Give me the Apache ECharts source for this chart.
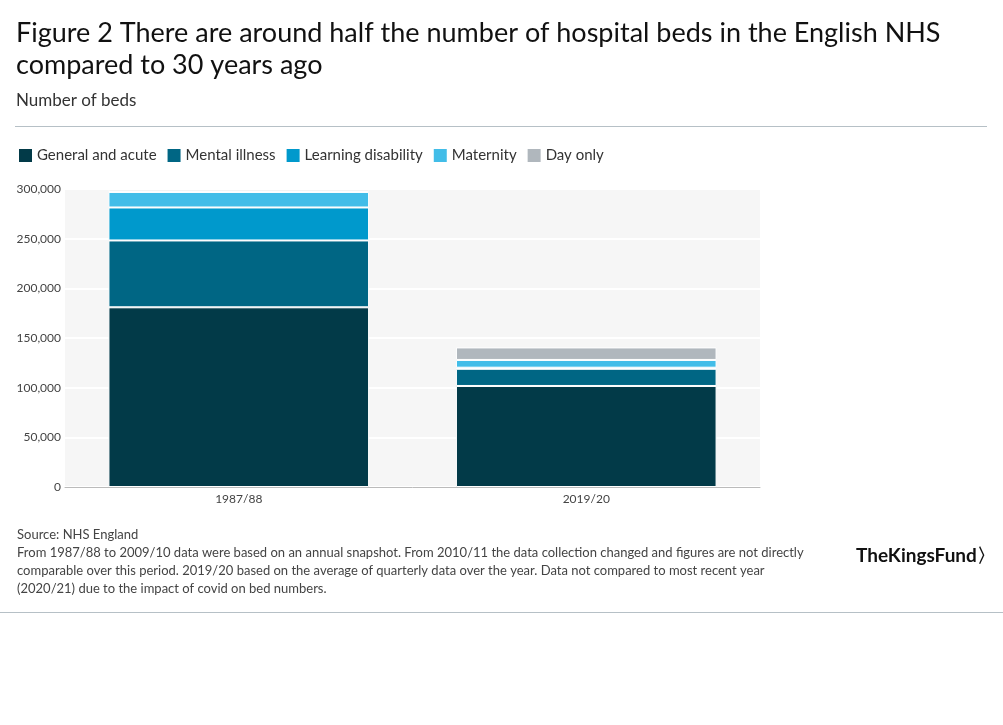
<!DOCTYPE html>
<html><head><meta charset="utf-8">
<script src="https://cdn.jsdelivr.net/npm/echarts@6/dist/echarts.min.js"></script>
<style>html,body{margin:0;padding:0;background:#fff}#c{width:1003px;height:725px}</style>
</head><body><div id="c"></div>
<script>
const categories = ['1987/88', '2019/20'];
const seriesNames = ['General and acute', 'Mental illness', 'Learning disability', 'Maternity', 'Day only'];
const generalAcute = [180900, 101700];
const mentalIllness = [67300, 17300];
const learningDisability = [33200, 1100];
const maternity = [15600, 7800];
const dayOnly = [2200, 12600];
const yTicks = [0, 50000, 100000, 150000, 200000, 250000, 300000];

const colors = ['#023a48', '#006684', '#0099cc', '#42bde8', '#b0b7bd'];
const values = [generalAcute, mentalIllness, learningDisability, maternity, dayOnly];
const FONT = 'Lato, "Open Sans", sans-serif';

const chart = echarts.init(document.getElementById('c'), null, {renderer: 'canvas'});
chart.setOption({
  animation: false,
  color: colors,
  textStyle: {fontFamily: FONT},
  title: [
    {text: 'Figure 2 There are around half the number of hospital beds in the English NHS\ncompared to 30 years ago',
     left: 11, top: 12, textStyle: {fontFamily: FONT, fontSize: 27, fontWeight: 'normal', color: '#111', lineHeight: 32}},
    {text: 'Number of beds', left: 11, top: 87,
     textStyle: {fontFamily: FONT, fontSize: 17, fontWeight: 'normal', color: '#333'}},
    {text: 'Source: NHS England\nFrom 1987/88 to 2009/10 data were based on an annual snapshot. From 2010/11 the data collection changed and figures are not directly\ncomparable over this period. 2019/20 based on the average of quarterly data over the year. Data not compared to most recent year\n(2020/21) due to the impact of covid on bed numbers.',
     left: 12, top: 521, textStyle: {fontFamily: FONT, fontSize: 13, fontWeight: 'normal', color: '#444', lineHeight: 18}}
  ],
  legend: {
    left: 12, top: 142, icon: 'rect', itemWidth: 15, itemHeight: 15, itemGap: 9,
    textStyle: {fontFamily: FONT, fontSize: 15, color: '#333', padding: [0, 0, 0, -1]},
    data: seriesNames
  },
  grid: {left: 65, right: 243, top: 189, bottom: 238, backgroundColor: '#f6f6f6', show: true, borderWidth: 0},
  xAxis: {
    type: 'category', data: categories,
    axisLine: {lineStyle: {color: '#bbb'}}, axisTick: {show: false},
    axisLabel: {fontFamily: FONT, fontSize: 12, color: '#444', margin: 6}
  },
  yAxis: {
    type: 'value', min: 0, max: 300000, interval: 50000,
    axisLabel: {fontFamily: FONT, fontSize: 12, color: '#444', margin: 4,
      formatter: v => yTicks.includes(v) ? v.toLocaleString('en-GB') : ''},
    splitLine: {lineStyle: {color: '#fff', width: 2}},
    axisLine: {show: false}, axisTick: {show: false}
  },
  series: seriesNames.map((n, i) => ({
    name: n, type: 'bar', stack: 'beds', barWidth: '75%', data: values[i],
    itemStyle: {color: colors[i], borderColor: '#fff', borderWidth: 1}
  })),
  graphic: [
    {type: 'rect', shape: {x: 15, y: 126, width: 972, height: 1}, style: {fill: '#b6c0c6'}},
    {type: 'rect', shape: {x: 0, y: 612, width: 1003, height: 1}, style: {fill: '#b6c0c6'}},
    {type: 'text', left: 856, top: 546, style: {text: 'TheKingsFund〉', fontFamily: FONT, fontSize: 19, fontWeight: 'bold', fill: '#111', letterSpacing: -1}}
  ]
});
</script></body></html>
